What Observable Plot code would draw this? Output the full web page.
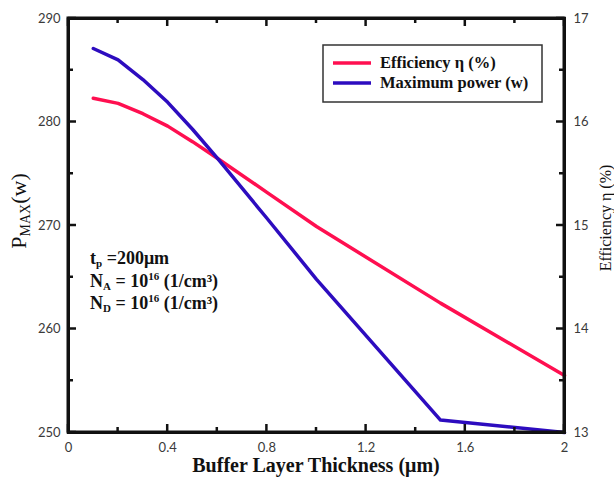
<!DOCTYPE html>
<html>
<head>
<meta charset="utf-8">
<script src="https://cdn.jsdelivr.net/npm/d3@7"></script>
<script src="https://cdn.jsdelivr.net/npm/@observablehq/plot@0.6"></script>
<style>
  html, body { margin: 0; padding: 0; background: #fff; }
  #chart svg { display: block; }
</style>
</head>
<body>
<div id="chart"></div>
<script>
// Buffer layer thickness (µm)
const thickness = [0.1, 0.2, 0.3, 0.4, 0.5, 0.6, 0.8, 1.0, 1.5, 2.0];
// Maximum power P_MAX (w), left axis
const pmax = [287.1, 286.0, 284.1, 281.9, 279.3, 276.5, 270.7, 264.8, 251.2, 250.0];
// Efficiency η (%), right axis
const efficiency = [16.23, 16.18, 16.08, 15.96, 15.81, 15.65, 15.32, 14.99, 14.25, 13.55];

// Tick values
const xMajor = [0, 0.4, 0.8, 1.2, 1.6, 2];
const xMinor = [0.2, 0.6, 1.0, 1.4, 1.8];
const pMajor = [250, 260, 270, 280, 290];
const pMinor = [255, 265, 275, 285];
const effTicks = [13, 14, 15, 16, 17];

(function drawChart() {
  // Right axis (13–17 %) shares the frame with the left axis (250–290 w)
  const effToP = e => 250 + (e - 13) * 10;
  const pToEff = p => 13 + (p - 250) / 10;

  const powerData = thickness.map((t, i) => ({t, v: pmax[i]}));
  const effData = thickness.map((t, i) => ({t, v: effToP(efficiency[i])}));

  const RED = "#ff0f50";
  const BLUE = "#2d0cbf";
  const INK = "#111";
  const majorLen = 8, minorLen = 5;
  const serif = "'Liberation Serif', 'DejaVu Serif', serif";

  const plot = Plot.plot({
    width: 614, height: 478, marginLeft: 68, marginRight: 50, marginTop: 18, marginBottom: 46,
    style: {fontFamily: "Lato", fontSize: "13px", color: "#3a3a3a"},
    x: {domain: [0, 2]},
    y: {domain: [250, 290]},
    marks: [
      Plot.axisX(xMajor, {tickSize: 0, tickPadding: 10, label: null, tickFormat: d => String(d)}),
      Plot.axisY(pMajor, {anchor: "left", tickSize: 0, tickPadding: 8, label: null}),
      Plot.axisY(effTicks.map(effToP), {anchor: "right", tickSize: 0, tickPadding: 9, label: null, tickFormat: d => String(pToEff(d))}),
      Plot.line(effData, {x: "t", y: "v", stroke: RED, strokeWidth: 3.5}),
      Plot.line(powerData, {x: "t", y: "v", stroke: BLUE, strokeWidth: 3.5}),
      Plot.frame({stroke: INK, strokeWidth: 3})
    ]
  });

  document.getElementById("chart").appendChild(plot);

  const svg = d3.select(plot);
  const xs = plot.scale("x"), ys = plot.scale("y");
  const [xL, xR] = xs.range;
  const [yB, yT] = ys.range;

  // Frame and inward ticks on all four sides, placed with the plot's scales
  const axes = svg.append("g").attr("stroke", INK).attr("fill", "none");
  axes.append("rect")
    .attr("x", xL).attr("y", yT).attr("width", xR - xL).attr("height", yB - yT)
    .attr("stroke-width", 3);
  [[xMajor, majorLen], [xMinor, minorLen]].forEach(([vals, len]) => vals.forEach(v => {
    const px = xs.apply(v);
    axes.append("line").attr("x1", px).attr("x2", px).attr("y1", yB).attr("y2", yB - len).attr("stroke-width", 2.5);
    axes.append("line").attr("x1", px).attr("x2", px).attr("y1", yT).attr("y2", yT + len).attr("stroke-width", 2.5);
  }));
  [[pMajor, majorLen], [pMinor, minorLen]].forEach(([vals, len]) => vals.forEach(v => {
    const py = ys.apply(v);
    axes.append("line").attr("y1", py).attr("y2", py).attr("x1", xL).attr("x2", xL + len).attr("stroke-width", 2.5);
    axes.append("line").attr("y1", py).attr("y2", py).attr("x1", xR).attr("x2", xR - len).attr("stroke-width", 2.5);
  }));

  // Axis titles
  svg.append("text")
    .attr("x", (xL + xR) / 2).attr("y", 472)
    .attr("text-anchor", "middle")
    .attr("font-family", serif).attr("font-weight", "bold").attr("font-size", 20).attr("fill", INK)
    .text("Buffer Layer Thickness (μm)");

  const yTitle = svg.append("text")
    .attr("transform", "translate(26,211) rotate(-90)")
    .attr("text-anchor", "middle")
    .attr("font-family", serif).attr("font-size", 22).attr("fill", INK);
  yTitle.append("tspan").text("P");
  yTitle.append("tspan").attr("font-size", 14).attr("dy", 4).text("MAX");
  yTitle.append("tspan").attr("dy", -4).text("(w)");

  svg.append("text")
    .attr("transform", "translate(611,218) rotate(-90)")
    .attr("text-anchor", "middle")
    .attr("font-family", serif).attr("font-size", 16).attr("fill", INK)
    .text("Efficiency η (%)");

  // Legend
  const leg = svg.append("g").attr("text-anchor", "start");
  leg.append("rect")
    .attr("x", 323).attr("y", 45).attr("width", 219).attr("height", 57)
    .attr("fill", "#fff").attr("stroke", "#333").attr("stroke-width", 1.5);
  [["Efficiency η (%)", RED, 63], ["Maximum power (w)", BLUE, 83]].forEach(([label, color, y]) => {
    leg.append("line").attr("x1", 333).attr("x2", 371).attr("y1", y).attr("y2", y)
      .attr("stroke", color).attr("stroke-width", 3.5);
    leg.append("text").attr("x", 380).attr("y", y + 5)
      .attr("font-family", serif).attr("font-weight", "bold").attr("font-size", 16.5).attr("fill", INK)
      .text(label);
  });

  // Device parameters
  const note = svg.append("g").attr("text-anchor", "start")
    .attr("font-family", serif).attr("font-weight", "bold").attr("font-size", 18).attr("fill", INK);
  const l1 = note.append("text").attr("x", 90).attr("y", 264);
  l1.append("tspan").text("t");
  l1.append("tspan").attr("font-size", 11).attr("dy", 3).text("p");
  l1.append("tspan").attr("dy", -3).text(" =200μm");
  [["A", 287], ["D", 309]].forEach(([sub, y]) => {
    const t = note.append("text").attr("x", 90).attr("y", y);
    t.append("tspan").text("N");
    t.append("tspan").attr("font-size", 11).attr("dy", 3).text(sub);
    t.append("tspan").attr("dy", -3).text(" = 10");
    t.append("tspan").attr("font-size", 11).attr("dy", -7).text("16");
    t.append("tspan").attr("dy", 7).text(" (1/cm³)");
  });
})();
</script>
</body>
</html>
